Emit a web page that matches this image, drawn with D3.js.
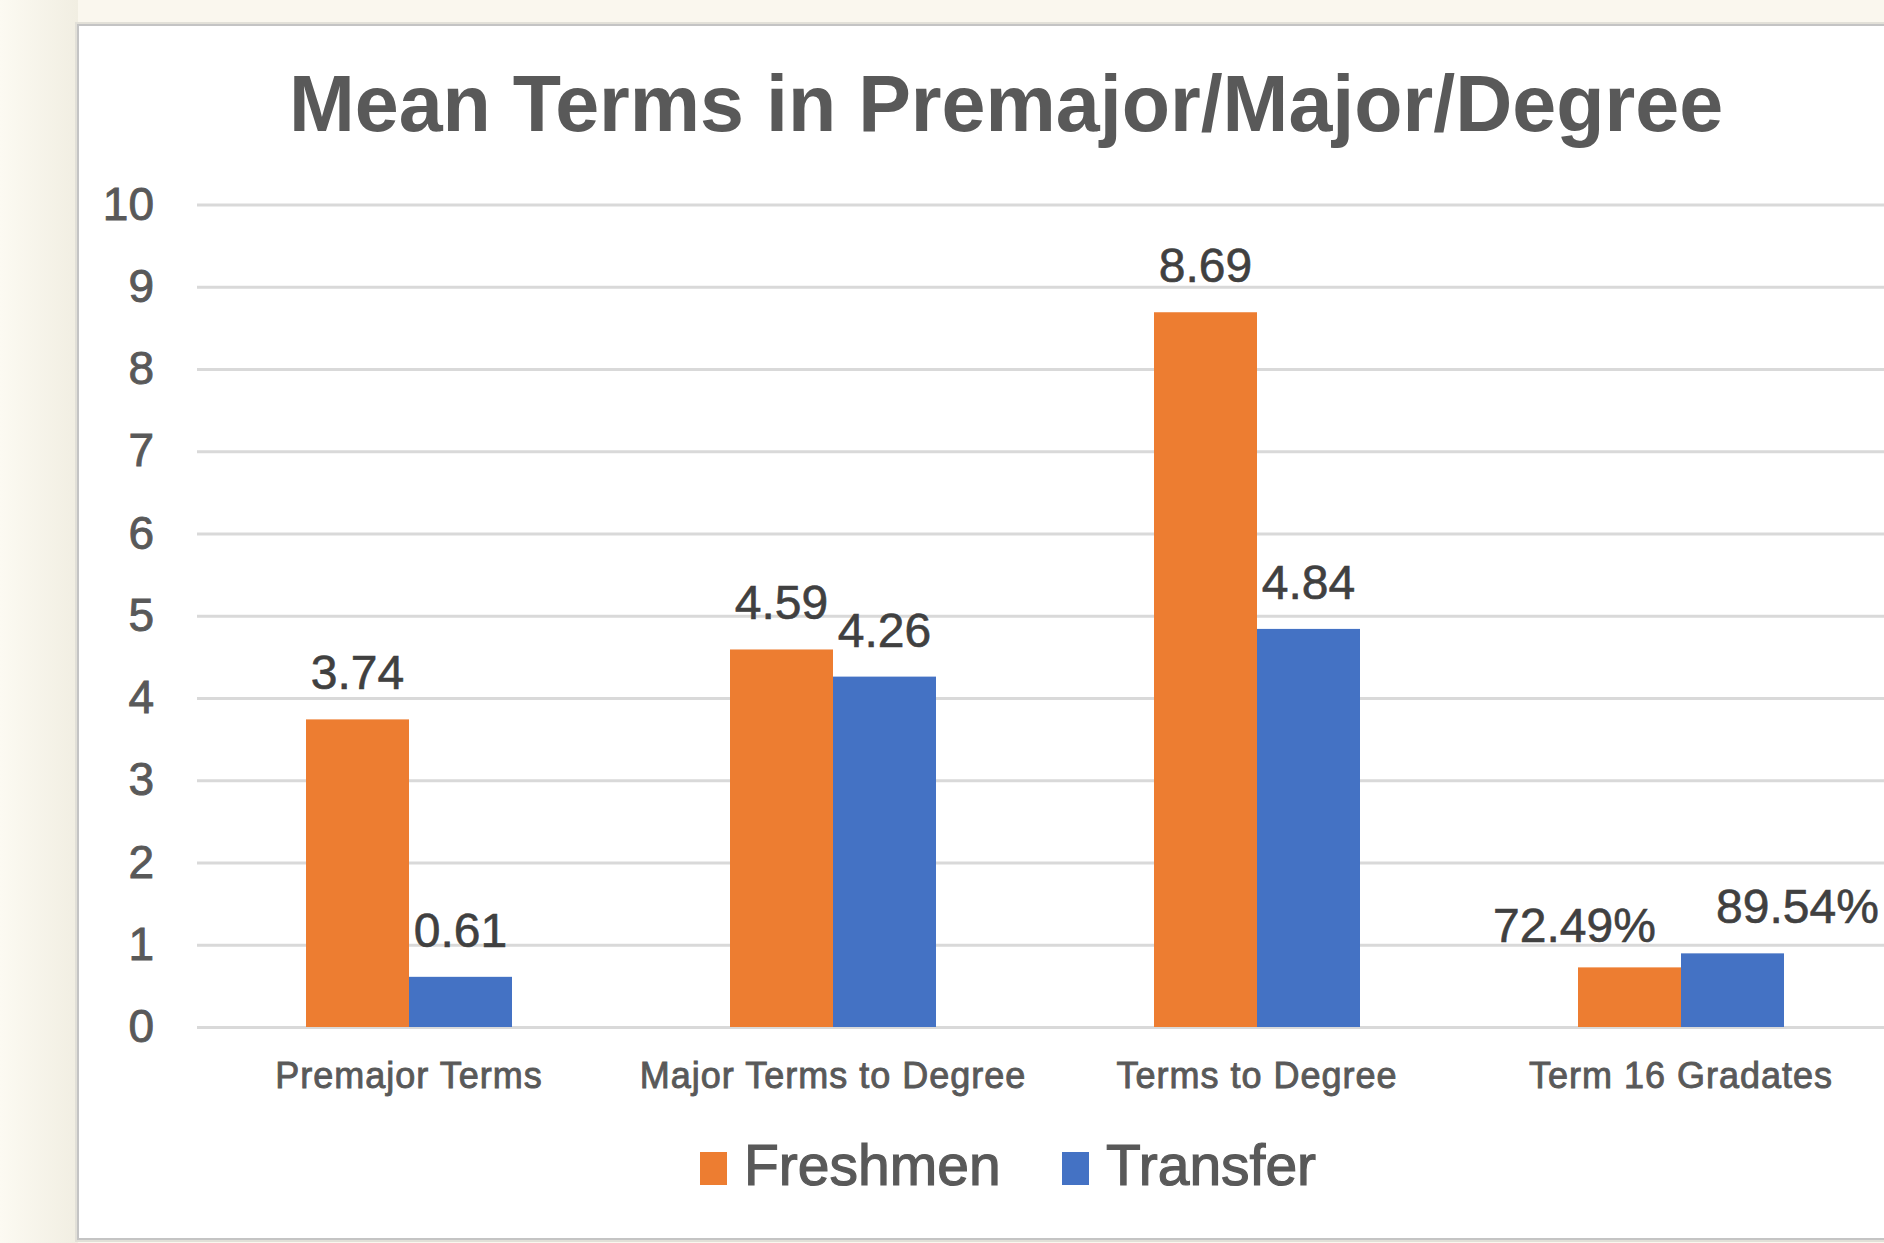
<!DOCTYPE html>
<html>
<head>
<meta charset="utf-8">
<script src="https://cdn.jsdelivr.net/npm/d3@7"></script>
<style>
  html, body { margin: 0; padding: 0; background: #faf7ee; }
  svg { display: block; }
  text { font-family: "Liberation Sans", Arial, Helvetica, sans-serif; }
</style>
</head>
<body>
<svg id="chart" width="1884" height="1243"></svg>
<script>
// ---- data ----
const title = "Mean Terms in Premajor/Major/Degree";
const categories = ["Premajor Terms", "Major Terms to Degree", "Terms to Degree", "Term 16 Gradates"];
const seriesNames = ["Freshmen", "Transfer"];
const freshmen = [3.74, 4.59, 8.69, 0.7249];
const transfer = [0.61, 4.26, 4.84, 0.8954];
const valueFormats = ["num", "num", "num", "pct"];
const yTicks = [0, 1, 2, 3, 4, 5, 6, 7, 8, 9, 10];

// ---- layout ----
const W = 1884, H = 1243;
const colors = { Freshmen: "#ED7D31", Transfer: "#4472C4" };
const svg = d3.select("#chart");

// background + panel
const defs = svg.append("defs");
const grad = defs.append("linearGradient").attr("id", "bgL").attr("x1", 0).attr("x2", 1).attr("y1", 0).attr("y2", 0);
grad.append("stop").attr("offset", "0%").attr("stop-color", "#fcfaf2");
grad.append("stop").attr("offset", "100%").attr("stop-color", "#f1eee2");
svg.append("rect").attr("x", 0).attr("y", 0).attr("width", W).attr("height", H).attr("fill", "#faf7ee");
svg.append("rect").attr("x", 0).attr("y", 0).attr("width", 78).attr("height", H).attr("fill", "url(#bgL)");
svg.append("rect").attr("x", 75).attr("y", 22).attr("width", W).attr("height", 1220)
  .attr("fill", "#e2e0d8");
svg.append("rect").attr("x", 78).attr("y", 25).attr("width", W).attr("height", 1214)
  .attr("fill", "#ffffff").attr("stroke", "#c4c4c4").attr("stroke-width", 2);

const plotLeft = 197, bandW = 424;
const x0 = d3.scaleBand().domain(categories).range([plotLeft, plotLeft + bandW * categories.length]).padding(0);
const x1 = d3.scaleBand().domain(seriesNames).range([109, 315]).padding(0);
const y = d3.scaleLinear().domain([0, 10]).range([1027, 204.5]);

// gridlines + y labels
const yAxis = d3.axisLeft(y).tickValues(yTicks).tickFormat(d3.format("d"))
  .tickSizeInner(-(W - plotLeft + 20)).tickSizeOuter(0).tickPadding(43);
const gy = svg.append("g").attr("transform", `translate(${plotLeft},0)`).call(yAxis);
gy.select(".domain").remove();
gy.selectAll(".tick line").attr("stroke", "#d9d9d9").attr("stroke-width", 3);
gy.selectAll(".tick text").attr("fill", "#595959").attr("font-size", 46)
  .attr("stroke", "#595959").attr("stroke-width", 0.9)
  .attr("font-family", '"Liberation Sans", Arial, sans-serif');

// bars
const rows = categories.map((c, i) => ({ cat: c, fmt: valueFormats[i], vals: [
  { s: "Freshmen", v: freshmen[i] }, { s: "Transfer", v: transfer[i] } ] }));
const groups = svg.append("g").selectAll("g").data(rows).join("g")
  .attr("transform", d => `translate(${x0(d.cat)},0)`);
groups.selectAll("rect").data(d => d.vals).join("rect")
  .attr("x", d => x1(d.s)).attr("width", x1.bandwidth())
  .attr("y", d => y(d.v)).attr("height", d => y(0) - y(d.v))
  .attr("fill", d => colors[d.s]);

// data labels
const fmtNum = d3.format(".2f"), fmtPct = d3.format(".2%");
const shift = { "Term 16 Gradates": { Freshmen: [-55, 5], Transfer: [65, 0] } };
groups.each(function (row) {
  d3.select(this).selectAll("text.lbl").data(row.vals).join("text").attr("class", "lbl")
    .attr("x", d => x1(d.s) + x1.bandwidth() / 2 + ((shift[row.cat] || {})[d.s] || [0, 0])[0])
    .attr("y", d => y(d.v) - 30 + ((shift[row.cat] || {})[d.s] || [0, 0])[1])
    .attr("text-anchor", "middle").attr("font-size", 48).attr("fill", "#404040")
    .attr("stroke", "#404040").attr("stroke-width", 0.6)
    .text(d => row.fmt === "pct" ? fmtPct(d.v) : fmtNum(d.v));
});

// x axis labels
const xAxis = d3.axisBottom(x0).tickSize(0).tickPadding(35);
const gx = svg.append("g").attr("transform", `translate(0,${y(0)})`).call(xAxis);
gx.select(".domain").remove();
gx.selectAll(".tick text").attr("fill", "#595959").attr("font-size", 36)
  .attr("stroke", "#595959").attr("stroke-width", 0.9)
  .attr("letter-spacing", 1).attr("font-family", '"Liberation Sans", Arial, sans-serif');

// title
svg.append("text").attr("x", 1006).attr("y", 131).attr("text-anchor", "middle")
  .attr("font-size", 79).attr("font-weight", "bold").attr("fill", "#595959").text(title);

// legend
const legendItems = [{ s: "Freshmen", x: 700 }, { s: "Transfer", x: 1062 }];
const lg = svg.append("g").selectAll("g").data(legendItems).join("g")
  .attr("transform", d => `translate(${d.x},0)`);
lg.append("rect").attr("x", 0).attr("y", 1152).attr("width", 27).attr("height", 33)
  .attr("fill", d => colors[d.s]);
lg.append("text").attr("x", 44).attr("y", 1185).attr("font-size", 57).attr("fill", "#595959")
  .attr("stroke", "#595959").attr("stroke-width", 1.2)
  .text(d => d.s);
</script>
</body>
</html>
